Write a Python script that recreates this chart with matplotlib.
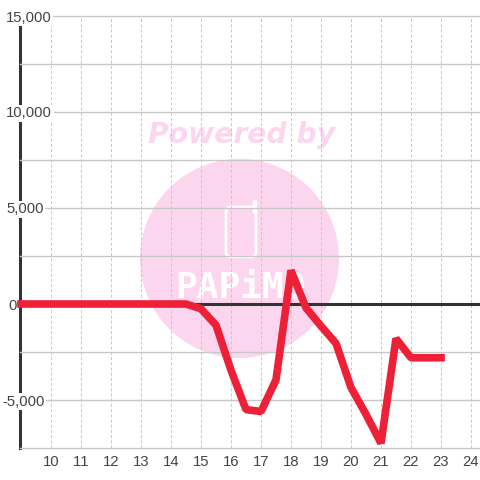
import matplotlib
matplotlib.use("Agg")
import matplotlib.pyplot as plt
from matplotlib.patches import Circle, FancyBboxPatch

# chart values
hours = [9, 9.5, 10, 10.5, 11, 11.5, 12, 12.5, 13, 13.5, 14, 14.5, 15, 15.5, 16, 16.5,
         17, 17.5, 18, 18.5, 19, 19.5, 20, 20.5, 21, 21.5, 22, 22.5, 23]
values = [0, 0, 0, 0, 0, 0, 0, 0, 0, 0, 0, 0, -250, -1100, -3450, -5500,
          -5600, -3950, 1750, -200, -1150, -2050, -4350, -5750, -7250, -1800, -2800, -2800, -2800]
x_ticks = list(range(10, 25))
y_ticks = [-7500, -5000, -2500, 0, 2500, 5000, 7500, 10000, 12500, 15000]
y_labels = ["", "-5,000", "", "0", "", "5,000", "", "10,000", "", "15,000"]
# left edge of each y label differs a little in the original
y_pads = [10, 13, 10, 8.6, 10, 10, 10, 10, 10, 10]

PINK = "#fbd6ee"
GRID = "#c8c8c8"
DARK = "#333333"

plt.rcParams["font.family"] = ["Liberation Sans", "DejaVu Sans"]
plt.rcParams["text.kerning_factor"] = 6
fig = plt.figure(figsize=(4.8, 4.8), dpi=100)

# watermark sits behind everything, in pixel coordinates
bg = fig.add_axes([0, 0, 1, 1], zorder=-1)
bg.set_xlim(0, 480)
bg.set_ylim(480, 0)
bg.axis("off")
bg.add_patch(Circle((239.5, 258.5), 99.5, color=PINK, lw=0))
bg.add_patch(FancyBboxPatch((226, 207), 30, 50, boxstyle="round,pad=0,rounding_size=5",
                            fc="none", ec="white", lw=1.9))
bg.plot([254.5, 254.5], [202, 212], color="white", lw=3.2, solid_capstyle="round")
bg.text(241.5, 135, "Powered by", color=PINK, fontsize=20.3, fontweight="bold", style="italic",
        family="DejaVu Sans", ha="center", va="center")
bg.text(240, 287, "PAPiMO", color="white", fontsize=26, family="DejaVu Sans Mono",
        fontweight="bold", ha="center", va="center")

ax = fig.add_axes([20 / 480, 32 / 480, 460 / 480, 432 / 480], facecolor="none")
ax.set_xlim(8.967, 24.3)
ax.set_ylim(-7500, 15000)
ax.set_axisbelow(True)

ax.set_xticks(x_ticks)
ax.set_yticks(y_ticks)
ax.set_yticklabels(y_labels)
ax.grid(True, axis="x", color=GRID, lw=0.72, ls=(0, (3, 2.2)), clip_on=False)
ax.grid(True, axis="y", color=GRID, lw=1.0, clip_on=False)
ax.tick_params(axis="both", length=0, labelsize=10.7, labelcolor="#444444")
ax.tick_params(axis="x", pad=5)
for tick, pad in zip(ax.yaxis.get_major_ticks(), y_pads):
    tick.set_pad(pad)
    tick.label1.set_ha("left")
    if tick.label1.get_text():
        tick.label1.set_bbox(dict(fc="white", ec="none", pad=1.2))

for side in ["top", "right", "bottom"]:
    ax.spines[side].set_visible(False)
ax.spines["left"].set_color(DARK)
ax.spines["left"].set_linewidth(2.2)
ax.spines["left"].set_zorder(0.4)

ax.axhline(0, color=DARK, lw=2.2, zorder=1)
ax.plot(hours, values, color="#ee2037", lw=5.5, zorder=3, clip_on=False,
        solid_capstyle="projecting", solid_joinstyle="bevel")

fig.savefig("out.png", dpi=100)
